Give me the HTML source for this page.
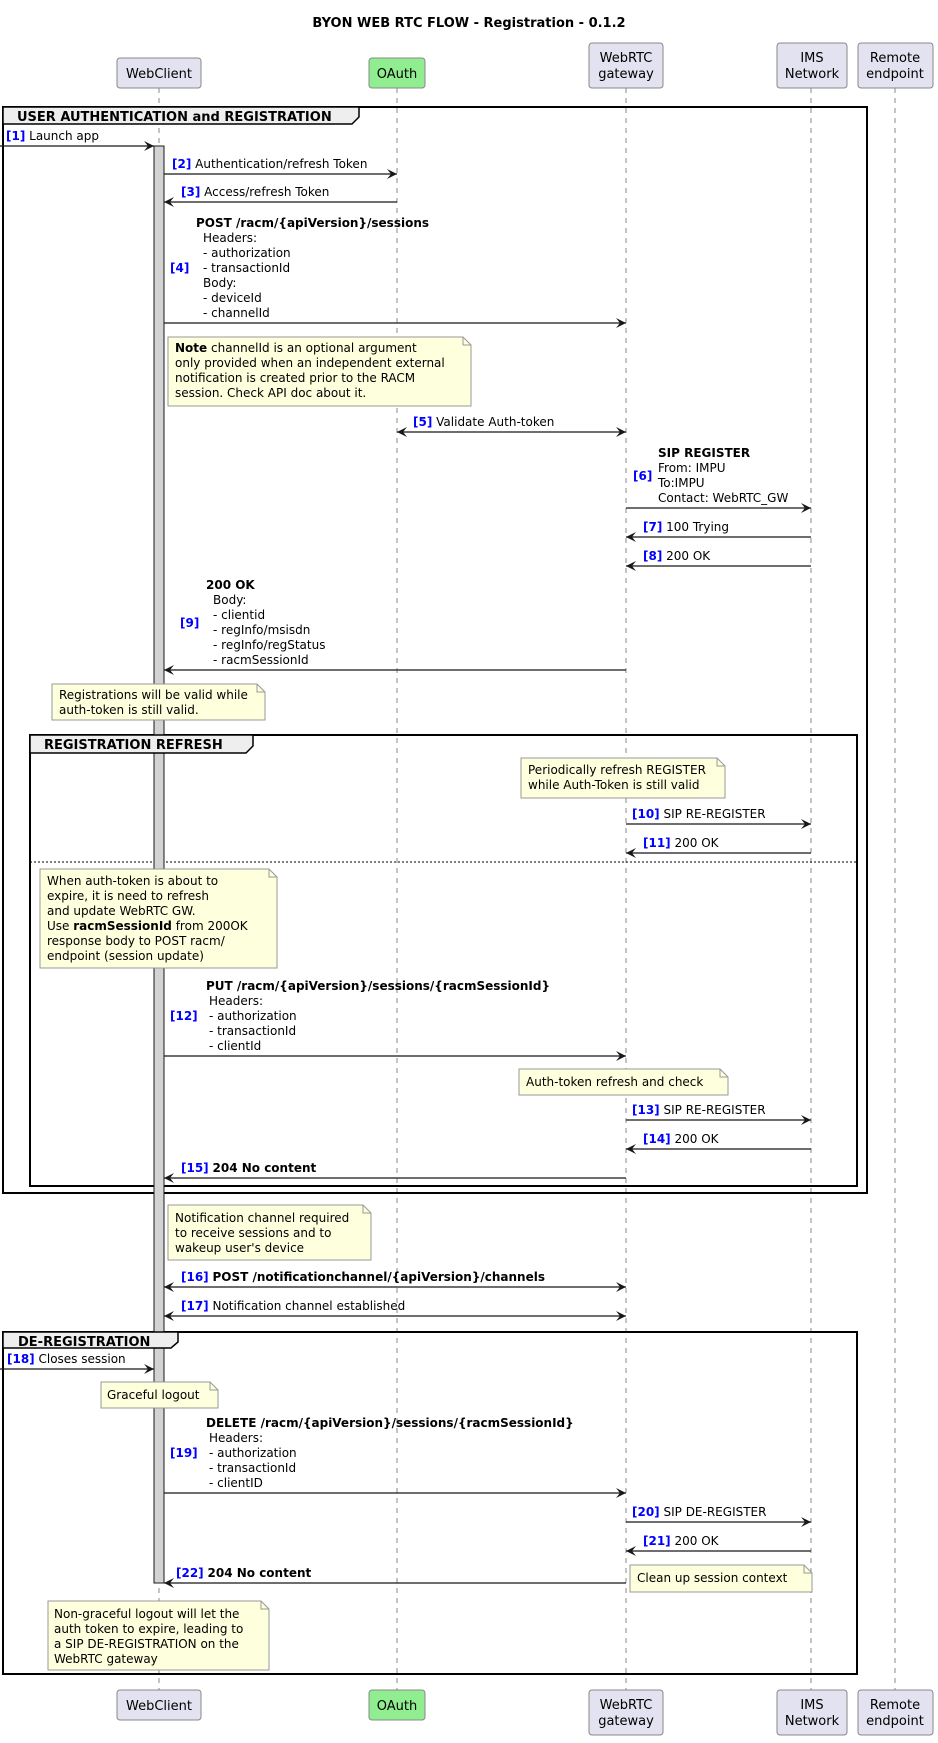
<!DOCTYPE html>
<html><head><meta charset="utf-8">
<style>
html,body{margin:0;padding:0;background:#fff;}
svg{display:block;}
text{font-family:"DejaVu Sans","Liberation Sans",sans-serif;font-size:12px;fill:#000;}
.b{font-weight:bold;}
.fl{font-weight:bold;font-size:13px;}
.n{fill:#0000ff;font-weight:bold;}
.ll{stroke:#888;stroke-width:1;stroke-dasharray:5,5;}
.m{stroke:#181818;stroke-width:1.2;fill:none;}
.note{fill:#FEFFDD;stroke:#999;stroke-width:1;}
.pb{fill:#E2E2F0;stroke:#888;stroke-width:1;}
.fr{fill:none;stroke:#000;stroke-width:2;}
.tab{fill:#EEEEEE;stroke:#000;stroke-width:1.5;}
.ah{fill:#181818;}
</style></head><body>
<svg width="938" height="1743" viewBox="0 0 938 1743" xmlns="http://www.w3.org/2000/svg">
<defs>
<marker id="ar" markerWidth="12" markerHeight="10" refX="10" refY="5" orient="auto-start-reverse" markerUnits="userSpaceOnUse">
<path d="M0,0 L10,5 L0,10 L4,5 Z" class="ah"/>
</marker>
</defs>
<text x="469" y="27" text-anchor="middle" class="b" style="font-size:13px">BYON WEB RTC FLOW - Registration - 0.1.2</text>

<!-- lifelines -->
<line class="ll" x1="159" y1="88" x2="159" y2="1690"/>
<line class="ll" x1="397" y1="88" x2="397" y2="1690"/>
<line class="ll" x1="626" y1="88" x2="626" y2="1690"/>
<line class="ll" x1="811" y1="88" x2="811" y2="1690"/>
<line class="ll" x1="895" y1="88" x2="895" y2="1690"/>

<!-- participants top -->
<rect class="pb" x="117" y="58" width="84" height="30" rx="3"/><text x="159" y="78" text-anchor="middle" style="font-size:13px">WebClient</text>
<rect x="369" y="58" width="56" height="30" rx="3" fill="#90EE90" stroke="#888"/><text x="397" y="78" text-anchor="middle" style="font-size:13px">OAuth</text>
<rect class="pb" x="589" y="43" width="74" height="45" rx="3"/><text x="626" y="62" text-anchor="middle" style="font-size:13px">WebRTC</text><text x="626" y="78" text-anchor="middle" style="font-size:13px">gateway</text>
<rect class="pb" x="777" y="43" width="70" height="45" rx="3"/><text x="812" y="62" text-anchor="middle" style="font-size:13px">IMS</text><text x="812" y="78" text-anchor="middle" style="font-size:13px">Network</text>
<rect class="pb" x="858" y="43" width="75" height="45" rx="3"/><text x="895" y="62" text-anchor="middle" style="font-size:13px">Remote</text><text x="895" y="78" text-anchor="middle" style="font-size:13px">endpoint</text>

<!-- participants bottom -->
<rect class="pb" x="117" y="1690" width="84" height="30" rx="3"/><text x="159" y="1710" text-anchor="middle" style="font-size:13px">WebClient</text>
<rect x="369" y="1690" width="56" height="30" rx="3" fill="#90EE90" stroke="#888"/><text x="397" y="1710" text-anchor="middle" style="font-size:13px">OAuth</text>
<rect class="pb" x="589" y="1690" width="74" height="45" rx="3"/><text x="626" y="1709" text-anchor="middle" style="font-size:13px">WebRTC</text><text x="626" y="1725" text-anchor="middle" style="font-size:13px">gateway</text>
<rect class="pb" x="777" y="1690" width="70" height="45" rx="3"/><text x="812" y="1709" text-anchor="middle" style="font-size:13px">IMS</text><text x="812" y="1725" text-anchor="middle" style="font-size:13px">Network</text>
<rect class="pb" x="858" y="1690" width="75" height="45" rx="3"/><text x="895" y="1709" text-anchor="middle" style="font-size:13px">Remote</text><text x="895" y="1725" text-anchor="middle" style="font-size:13px">endpoint</text>

<!-- frames -->
<rect class="fr" x="3" y="107" width="864" height="1086"/>
<rect class="fr" x="30" y="735" width="827" height="451"/>
<line x1="30" y1="862" x2="857" y2="862" stroke="#000" stroke-width="1" stroke-dasharray="2,2"/>
<rect class="fr" x="3" y="1332" width="854" height="342"/>

<!-- activation bar -->
<rect x="154" y="146" width="10" height="1437" fill="#D3D3D3" stroke="#181818" stroke-width="1"/>

<!-- frame tabs on top -->
<path class="tab" d="M3,107 H359 V117 L352,124 H3 Z"/>
<text x="17" y="121" class="fl">USER AUTHENTICATION and REGISTRATION</text>
<path class="tab" d="M30,735 H253 V746 L246,753 H30 Z"/>
<text x="44" y="749" class="fl">REGISTRATION REFRESH</text>
<path class="tab" d="M3,1332 H178 V1342 L171,1348 H3 Z"/>
<text x="18" y="1346" class="fl">DE-REGISTRATION</text>

<!-- messages -->
<text x="6" y="140"><tspan class="n">[1]</tspan> Launch app</text>
<line class="m" x1="0" y1="146" x2="154" y2="146" marker-end="url(#ar)"/>

<text x="172" y="168"><tspan class="n">[2]</tspan> Authentication/refresh Token</text>
<line class="m" x1="164" y1="174" x2="397" y2="174" marker-end="url(#ar)"/>

<text x="181" y="196"><tspan class="n">[3]</tspan> Access/refresh Token</text>
<line class="m" x1="397" y1="202" x2="164" y2="202" marker-end="url(#ar)"/>

<text x="196" y="227" class="b">POST /racm/{apiVersion}/sessions</text>
<text x="203" y="242">Headers:</text>
<text x="203" y="257">- authorization</text>
<text x="203" y="272">- transactionId</text>
<text x="203" y="287">Body:</text>
<text x="203" y="302">- deviceId</text>
<text x="203" y="317">- channelId</text>
<text x="170" y="272" class="n">[4]</text>
<line class="m" x1="164" y1="323" x2="626" y2="323" marker-end="url(#ar)"/>

<path class="note" d="M168,337 H463 L471,345 V406 H168 Z"/>
<path d="M463,337 V345 H471" fill="none" stroke="#999"/>
<text x="175" y="352"><tspan class="b">Note</tspan> channelId is an optional argument</text>
<text x="175" y="367">only provided when an independent external</text>
<text x="175" y="382">notification is created prior to the RACM</text>
<text x="175" y="397">session. Check API doc about it.</text>

<text x="413" y="426"><tspan class="n">[5]</tspan> Validate Auth-token</text>
<line class="m" x1="397" y1="432" x2="626" y2="432" marker-start="url(#ar)" marker-end="url(#ar)"/>

<text x="658" y="457" class="b">SIP REGISTER</text>
<text x="658" y="472">From: IMPU</text>
<text x="658" y="487">To:IMPU</text>
<text x="658" y="502">Contact: WebRTC_GW</text>
<text x="633" y="480" class="n">[6]</text>
<line class="m" x1="626" y1="508" x2="811" y2="508" marker-end="url(#ar)"/>

<text x="643" y="531"><tspan class="n">[7]</tspan> 100 Trying</text>
<line class="m" x1="811" y1="537" x2="626" y2="537" marker-end="url(#ar)"/>
<text x="643" y="560"><tspan class="n">[8]</tspan> 200 OK</text>
<line class="m" x1="811" y1="566" x2="626" y2="566" marker-end="url(#ar)"/>

<text x="206" y="589" class="b">200 OK</text>
<text x="213" y="604">Body:</text>
<text x="213" y="619">- clientid</text>
<text x="213" y="634">- regInfo/msisdn</text>
<text x="213" y="649">- regInfo/regStatus</text>
<text x="213" y="664">- racmSessionId</text>
<text x="180" y="627" class="n">[9]</text>
<line class="m" x1="626" y1="670" x2="164" y2="670" marker-end="url(#ar)"/>

<path class="note" d="M52,684 H257 L265,692 V720 H52 Z"/>
<path d="M257,684 V692 H265" fill="none" stroke="#999"/>
<text x="59" y="699">Registrations will be valid while</text>
<text x="59" y="714">auth-token is still valid.</text>

<path class="note" d="M521,758 H717 L725,766 V798 H521 Z"/>
<path d="M717,758 V766 H725" fill="none" stroke="#999"/>
<text x="528" y="774">Periodically refresh REGISTER</text>
<text x="528" y="789">while Auth-Token is still valid</text>

<text x="632" y="818"><tspan class="n">[10]</tspan> SIP RE-REGISTER</text>
<line class="m" x1="626" y1="824" x2="811" y2="824" marker-end="url(#ar)"/>
<text x="643" y="847"><tspan class="n">[11]</tspan> 200 OK</text>
<line class="m" x1="811" y1="853" x2="626" y2="853" marker-end="url(#ar)"/>

<path class="note" d="M40,869 H269 L277,877 V968 H40 Z"/>
<path d="M269,869 V877 H277" fill="none" stroke="#999"/>
<text x="47" y="885">When auth-token is about to</text>
<text x="47" y="900">expire, it is need to refresh</text>
<text x="47" y="915">and update WebRTC GW.</text>
<text x="47" y="930">Use <tspan class="b">racmSessionId</tspan> from 200OK</text>
<text x="47" y="945">response body to POST racm/</text>
<text x="47" y="960">endpoint (session update)</text>

<text x="206" y="990" class="b">PUT /racm/{apiVersion}/sessions/{racmSessionId}</text>
<text x="209" y="1005">Headers:</text>
<text x="209" y="1020">- authorization</text>
<text x="209" y="1035">- transactionId</text>
<text x="209" y="1050">- clientId</text>
<text x="170" y="1020" class="n">[12]</text>
<line class="m" x1="164" y1="1056" x2="626" y2="1056" marker-end="url(#ar)"/>

<path class="note" d="M519,1069 H720 L728,1077 V1095 H519 Z"/>
<path d="M720,1069 V1077 H728" fill="none" stroke="#999"/>
<text x="526" y="1086">Auth-token refresh and check</text>

<text x="632" y="1114"><tspan class="n">[13]</tspan> SIP RE-REGISTER</text>
<line class="m" x1="626" y1="1120" x2="811" y2="1120" marker-end="url(#ar)"/>
<text x="643" y="1143"><tspan class="n">[14]</tspan> 200 OK</text>
<line class="m" x1="811" y1="1149" x2="626" y2="1149" marker-end="url(#ar)"/>
<text x="181" y="1172"><tspan class="n">[15]</tspan> <tspan class="b">204 No content</tspan></text>
<line class="m" x1="626" y1="1178" x2="164" y2="1178" marker-end="url(#ar)"/>

<path class="note" d="M168,1205 H363 L371,1213 V1260 H168 Z"/>
<path d="M363,1205 V1213 H371" fill="none" stroke="#999"/>
<text x="175" y="1222">Notification channel required</text>
<text x="175" y="1237">to receive sessions and to</text>
<text x="175" y="1252">wakeup user's device</text>

<text x="181" y="1281"><tspan class="n">[16]</tspan> <tspan class="b">POST /notificationchannel/{apiVersion}/channels</tspan></text>
<line class="m" x1="164" y1="1287" x2="626" y2="1287" marker-start="url(#ar)" marker-end="url(#ar)"/>
<text x="181" y="1310"><tspan class="n">[17]</tspan> Notification channel established</text>
<line class="m" x1="164" y1="1316" x2="626" y2="1316" marker-start="url(#ar)" marker-end="url(#ar)"/>

<text x="7" y="1363"><tspan class="n">[18]</tspan> Closes session</text>
<line class="m" x1="0" y1="1369" x2="154" y2="1369" marker-end="url(#ar)"/>

<path class="note" d="M101,1382 H210 L218,1390 V1408 H101 Z"/>
<path d="M210,1382 V1390 H218" fill="none" stroke="#999"/>
<text x="107" y="1399">Graceful logout</text>

<text x="206" y="1427" class="b">DELETE /racm/{apiVersion}/sessions/{racmSessionId}</text>
<text x="209" y="1442">Headers:</text>
<text x="209" y="1457">- authorization</text>
<text x="209" y="1472">- transactionId</text>
<text x="209" y="1487">- clientID</text>
<text x="170" y="1457" class="n">[19]</text>
<line class="m" x1="164" y1="1493" x2="626" y2="1493" marker-end="url(#ar)"/>

<text x="632" y="1516"><tspan class="n">[20]</tspan> SIP DE-REGISTER</text>
<line class="m" x1="626" y1="1522" x2="811" y2="1522" marker-end="url(#ar)"/>
<text x="643" y="1545"><tspan class="n">[21]</tspan> 200 OK</text>
<line class="m" x1="811" y1="1551" x2="626" y2="1551" marker-end="url(#ar)"/>
<text x="176" y="1577"><tspan class="n">[22]</tspan> <tspan class="b">204 No content</tspan></text>
<line class="m" x1="626" y1="1583" x2="164" y2="1583" marker-end="url(#ar)"/>

<path class="note" d="M630,1565 H804 L812,1573 V1592 H630 Z"/>
<path d="M804,1565 V1573 H812" fill="none" stroke="#999"/>
<text x="637" y="1582">Clean up session context</text>

<path class="note" d="M48,1601 H261 L269,1609 V1670 H48 Z"/>
<path d="M261,1601 V1609 H269" fill="none" stroke="#999"/>
<text x="54" y="1618">Non-graceful logout will let the</text>
<text x="54" y="1633">auth token to expire, leading to</text>
<text x="54" y="1648">a SIP DE-REGISTRATION on the</text>
<text x="54" y="1663">WebRTC gateway</text>
</svg>
</body></html>
